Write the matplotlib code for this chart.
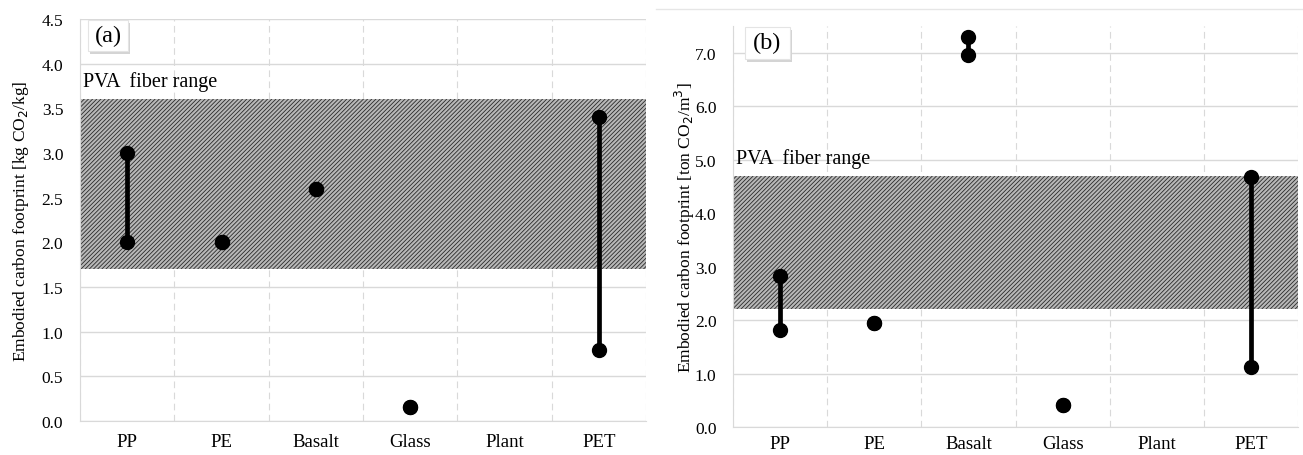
import matplotlib.pyplot as plt
from matplotlib.patches import Rectangle
from matplotlib.lines import Line2D

plt.rcParams['font.family'] = ['Liberation Serif', 'DejaVu Serif']
plt.rcParams['hatch.linewidth'] = 0.6

fibers = ["PP", "PE", "Basalt", "Glass", "Plant", "PET"]

# (a) per mass, kg CO2/kg : low / high (None = no data)
kg_low = [2.0, 2.0, 2.6, 0.16, None, 0.8]
kg_high = [3.0, 2.0, 2.6, 0.16, None, 3.4]
pva_kg = (1.7, 3.6)

# (b) per volume, ton CO2/m3
vol_low = [1.82, 1.94, 6.96, 0.41, None, 1.12]
vol_high = [2.82, 1.94, 7.29, 0.41, None, 4.67]
pva_vol = (2.2, 4.7)

fig = plt.figure(figsize=(13.03, 4.56), dpi=100)
ax1 = fig.add_axes([0.0614, 0.0746, 0.4344, 0.8816])
ax2 = fig.add_axes([0.5626, 0.0614, 0.4336, 0.8794])

def draw(ax, low, high, band, ymax, yt, ylabel, tag, xpad, tagbox):
    x = list(range(len(fibers)))
    ax.set_xlim(-0.5, len(fibers) - 0.5)
    ax.set_ylim(0, ymax)
    ax.set_yticks(yt)
    ax.set_yticklabels(["{:.1f}".format(t) for t in yt], fontsize=12.5)
    ax.set_xticks(x)
    ax.set_xticklabels(fibers, fontsize=13.5)
    ax.tick_params(axis="y", length=0, pad=12)
    ax.tick_params(axis="x", length=0, pad=xpad)
    for t in yt:
        ax.axhline(t, color="#d9d9d9", lw=1.0, zorder=0)
    for b in range(len(fibers) + 1):
        ax.axvline(b - 0.5, color="#d9d9d9", lw=0.8, ls=(0, (6, 4)), zorder=0)
    for s in ax.spines.values():
        s.set_visible(False)
    ax.spines["left"].set_visible(True)
    ax.spines["left"].set_color("#d9d9d9")
    ax.spines["bottom"].set_visible(True)
    ax.spines["bottom"].set_color("#d9d9d9")

    # PVA fiber band
    ax.add_patch(Rectangle((-0.5, band[0]), len(fibers), band[1] - band[0],
                           facecolor="#b8b8b8", edgecolor="#2a2a2a",
                           hatch="////////", lw=0, zorder=1))

    for i in x:
        if low[i] is None:
            continue
        ax.plot([i, i], [low[i], high[i]], color="black", lw=3.4,
                marker="o", ms=10, zorder=3)

    ax.set_ylabel(ylabel, fontsize=12.5)
    ax.text(-0.47, band[1] + 0.02 * ymax, "PVA  fiber range", fontsize=14.5,
            va="bottom", ha="left", zorder=4)

    # tag box with a soft drop shadow (axes fractions)
    x0, y0, w, h = tagbox
    ax.add_patch(Rectangle((x0 + 0.004, y0 - 0.009), w, h,
                           transform=ax.transAxes, facecolor="#d4d4d4",
                           edgecolor="none", zorder=4.8, clip_on=False))
    ax.add_patch(Rectangle((x0, y0), w, h, transform=ax.transAxes,
                           facecolor="white", edgecolor="#e4e4e4", lw=0.8,
                           zorder=4.9, clip_on=False))
    ax.text(x0 + w / 2, y0 + h / 2, tag, transform=ax.transAxes,
            fontsize=17.5, va="center", ha="center", zorder=5)

draw(ax1, kg_low, kg_high, pva_kg, 4.5,
     [0, 0.5, 1.0, 1.5, 2.0, 2.5, 3.0, 3.5, 4.0, 4.5],
     "Embodied carbon footprint [kg CO$_2$/kg]", "(a)", 9,
     (0.014, 0.921, 0.071, 0.077))
draw(ax2, vol_low, vol_high, pva_vol, 7.5, [0, 1, 2, 3, 4, 5, 6, 7],
     "Embodied carbon footprint [ton CO$_2$/m$^3$]", "(b)", 6,
     (0.021, 0.918, 0.08, 0.08))
ax1.yaxis.set_label_coords(-0.087, 0.5)
ax2.yaxis.set_label_coords(-0.064, 0.5)

# thin frame line above panel (b)
fig.add_artist(Line2D([656 / 1303, 1.0], [1 - 10 / 456, 1 - 10 / 456],
                      color="#e6e6e6", lw=1.0))

fig.savefig("out.png", dpi=100)
